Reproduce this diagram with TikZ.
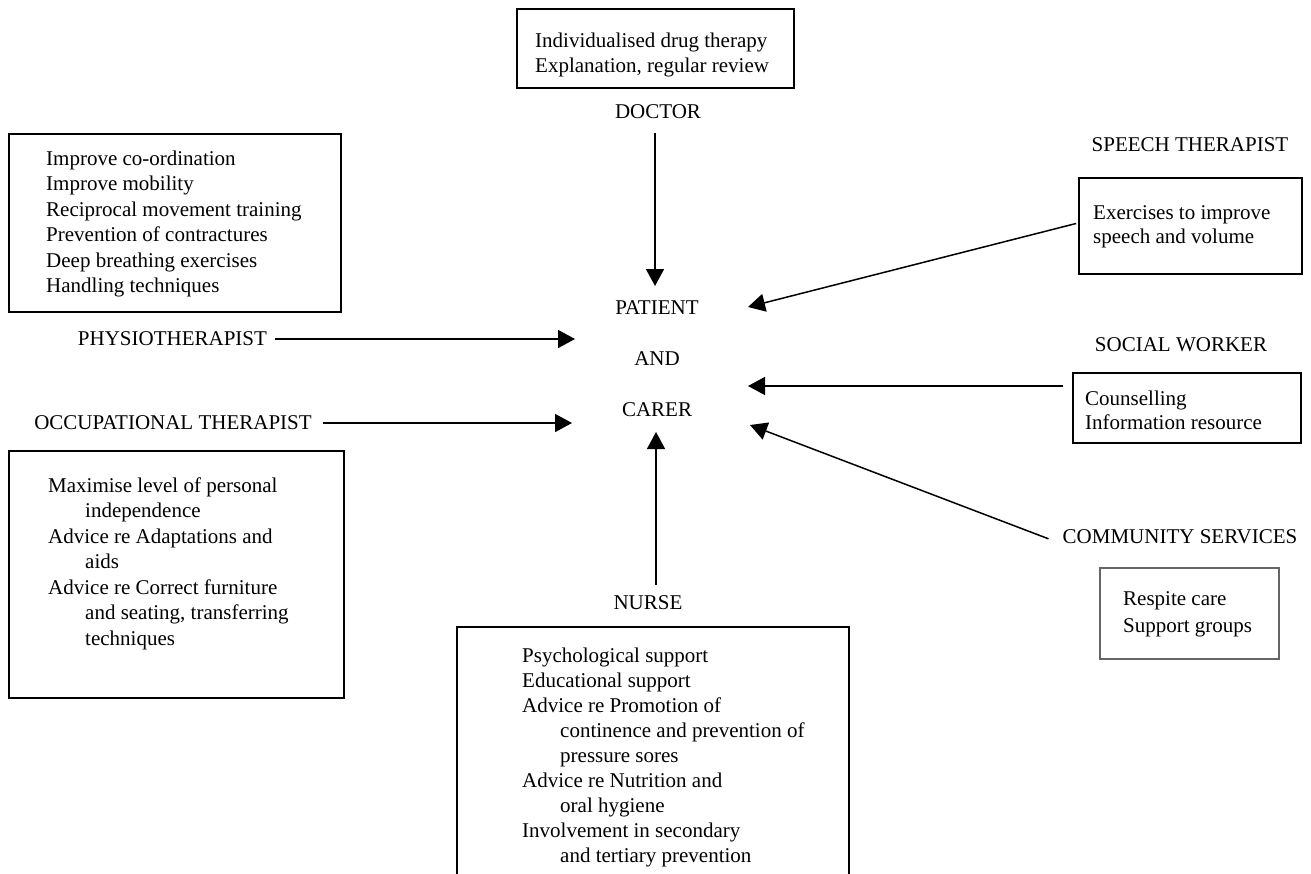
\documentclass[tikz,border=0pt]{standalone}
\usepackage{fontspec}
\setmainfont{Liberation Serif}
\usetikzlibrary{arrows.meta}
\begin{document}
\begin{tikzpicture}[x=1pt,y=-1pt,
  every node/.style={font=\fontsize{21}{25.5}\selectfont, inner sep=0pt},
  box/.style={draw, line width=1.6pt, rectangle, anchor=north west},
  txt/.style={anchor=north west, align=left},
  lbl/.style={text height=13.9pt, text depth=0pt},
  arr/.style={-{Triangle[length=17pt,width=18pt]}, line width=1.5pt}]
\useasboundingbox (0,0) rectangle (1311,873);
\fill[white] (0,0) rectangle (1311,873);
\clip (0,0) rectangle (1311,873);

% boxes
\node[box, minimum width=277pt, minimum height=79pt] (docbox) at (516,8) {};
\node[box, minimum width=332pt, minimum height=178pt] (physbox) at (8,133) {};
\node[box, minimum width=335pt, minimum height=247pt] (otbox) at (8,450) {};
\node[box, minimum width=223pt, minimum height=96pt] (speechbox) at (1078,177) {};
\node[box, minimum width=228pt, minimum height=70pt] (socialbox) at (1072,372) {};
\node[box, draw=black!60, minimum width=179pt, minimum height=91pt] (commbox) at (1099,567) {};
\node[box, minimum width=392pt, minimum height=270pt] (nursebox) at (456,626) {};

% box texts
\node[txt] (doctext) at (535,32) {\rule{0pt}{15pt}Individualised drug therapy\\Explanation, regular review};
\node[txt] (phystext) at (46,150) {\rule{0pt}{15pt}Improve co-ordination\\Improve mobility\\Reciprocal movement training\\Prevention of contractures\\Deep breathing exercises\\Handling techniques};
\node[txt] (ottext) at (48,477) {\rule{0pt}{15pt}Maximise level of personal\\\hspace*{37pt}independence\\Advice re Adaptations and\\\hspace*{37pt}aids\\Advice re Correct furniture\\\hspace*{37pt}and seating, transferring\\\hspace*{37pt}techniques};
\node[txt, font=\fontsize{21}{24}\selectfont] (speechtext) at (1093,204) {\rule{0pt}{15pt}Exercises to improve\\speech and volume};
\node[txt, font=\fontsize{21}{24}\selectfont] (socialtext) at (1085,390) {\rule{0pt}{15pt}Counselling\\Information resource};
\node[txt, font=\fontsize{21}{27}\selectfont] (commtext) at (1123,590) {\rule{0pt}{15pt}Respite care\\Support groups};
\node[txt, font=\fontsize{21}{25}\selectfont] (nursetext) at (522,647) {\rule{0pt}{15pt}Psychological support\\Educational support\\Advice re Promotion of\\\hspace*{38pt}continence and prevention of\\\hspace*{38pt}pressure sores\\Advice re Nutrition and\\\hspace*{38pt}oral hygiene\\Involvement in secondary\\\hspace*{38pt}and tertiary prevention};

% labels
\node[lbl] (doclbl) at (658,112) {DOCTOR};
\node[lbl] (speechlbl) at (1190,145) {SPEECH THERAPIST};
\node[lbl] (sociallbl) at (1181,345) {SOCIAL WORKER};
\node[lbl] (commlbl) at (1180,537) {COMMUNITY SERVICES};
\node[lbl] (physlbl) at (172.5,339) {PHYSIOTHERAPIST};
\node[lbl] (otlbl) at (173,423) {OCCUPATIONAL THERAPIST};
\node[lbl] (nurselbl) at (648,603) {NURSE};

% centre
\node[font=\fontsize{21}{51}\selectfont, align=center, anchor=north] (pc) at (657,299) {\rule{0pt}{15pt}PATIENT\\AND\\CARER};

% arrow tips
\coordinate (tipD) at (655,286);
\coordinate (tipP) at (575,339);
\coordinate (tipO) at (572,423);
\coordinate (tipS) at (748,307);
\coordinate (tipW) at (748,386);
\coordinate (tipC) at (750,425);
\coordinate (tipN) at (656,432);

% connectors
\draw[arr, shorten <=14pt] (doclbl.south -| tipD) -- (tipD);
\draw[arr, shorten <=8pt] (physlbl.east) -- (tipP);
\draw[arr, shorten <=11pt] (otlbl.east) -- (tipO);
\draw[arr, shorten <=11pt] (nurselbl.north -| tipN) -- (tipN);
\draw[arr, shorten <=2pt] (speechbox.west |- 0,223) -- (tipS);
\draw[arr, shorten <=9pt] (socialbox.west |- tipW) -- (tipW);
\draw[arr, shorten <=15pt] (commlbl.south west) -- (tipC);
\end{tikzpicture}
\end{document}
